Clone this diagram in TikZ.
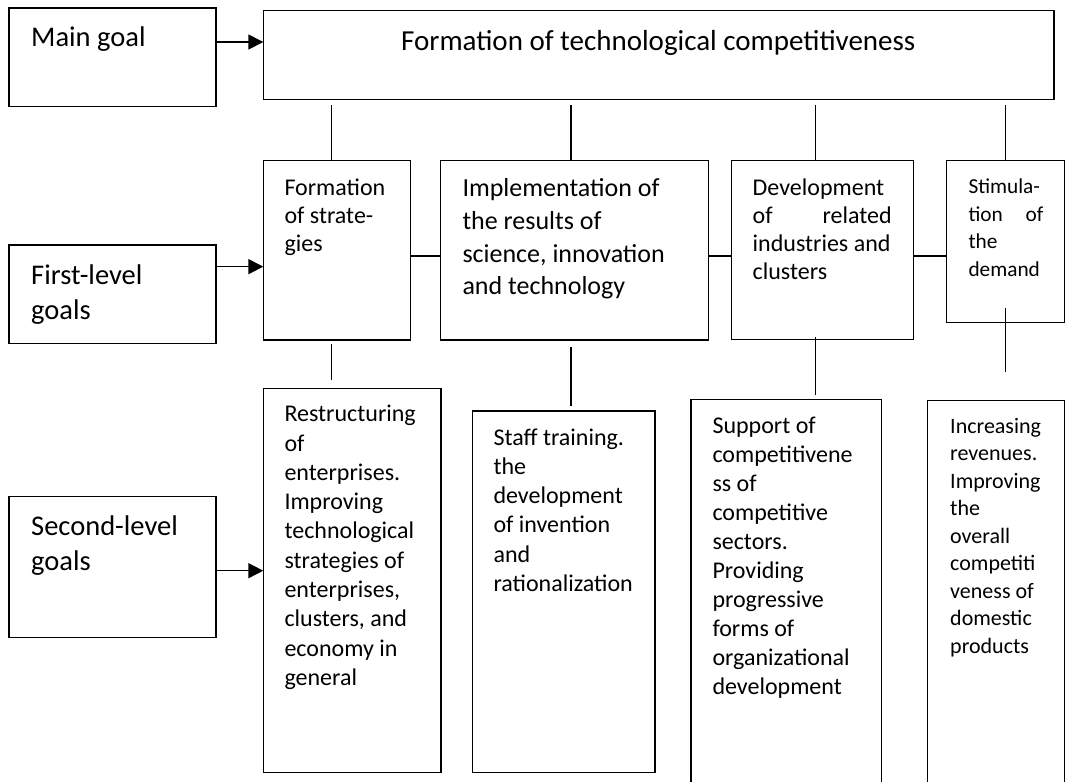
\documentclass[tikz,border=0pt]{standalone}
\usepackage{fontspec}
\setmainfont{Carlito}
\usetikzlibrary{arrows.meta,calc}
% left-aligned block whose reference point is the first baseline
\newcommand\goallines[1]{\begin{tabular}[t]{@{}l@{}}#1\end{tabular}}
\begin{document}
\begin{tikzpicture}[x=1pt,y=-1pt,
  box/.style={draw, line width=1.5pt, inner sep=0pt, outer sep=0pt},
  link/.style={line width=1.5pt},
  goalarrow/.style={line width=1.5pt, -{Triangle[length=15pt,width=15pt]}},
  txt/.style={anchor=base west, inner sep=0pt},
  fbig/.style={font=\fontsize{29}{35}\selectfont},
  flab/.style={font=\fontsize{28.5}{35}\selectfont},
  fmid/.style={font=\fontsize{26}{32.7}\selectfont},
  fstd/.style={font=\fontsize{24}{29.3}\selectfont},
  fdev/.style={font=\fontsize{24}{28}\selectfont},
  fstim/.style={font=\fontsize{21.3}{27.8}\selectfont},
  fincr/.style={font=\fontsize{22}{27.5}\selectfont}]
\useasboundingbox (0,0) rectangle (1066,782);
\fill[white] (0,0) rectangle (1066,782);
\clip (0,0) rectangle (1066,782);

% level labels
\node[box, minimum width=207pt, minimum height=98.7pt] (main) at (112.5,57.35) {};
\node[box, minimum width=207pt, minimum height=98.3pt] (first) at (112.5,294.15) {};
\node[box, minimum width=207pt, minimum height=141pt] (second) at (112.5,567.2) {};
\node[txt, flab] (main-t) at (31,46.7) {Main goal};
\node[txt, flab] (first-t) at (31,284) {\goallines{First-level\\goals}};
\node[txt, flab] (second-t) at (31,535) {\goallines{Second-level\\goals}};

% main goal
\node[box, minimum width=790.7pt, minimum height=88.6pt] (top) at (658.65,55) {};
\node[txt, fbig] (top-t) at (401,50.7) {Formation of technological competitiveness};

% first-level goals
\node[box, minimum width=147.4pt, minimum height=179.3pt] (strat) at (337,250.35) {};
\node[box, minimum width=267.6pt, minimum height=179.3pt] (impl) at (574.5,250.35) {};
\node[box, minimum width=181.6pt, minimum height=178.6pt] (dev) at (822.5,250) {};
\node[box, minimum width=117.6pt, minimum height=162pt] (stim) at (1005.5,241.7) {};
\node[txt, fdev] (strat-t) at (284.3,195) {\goallines{Formation\\of strate-\\gies}};
\node[txt, fmid] (impl-t) at (462.3,196.7) {\goallines{Implementation of\\the results of\\science, innovation\\and technology}};
\node[txt, fdev] (dev-t) at (752.5,195) {\goallines{Development\\\makebox[139pt][l]{of\hfill related}\\industries and\\clusters}};
\node[txt, fstim] (stim-t) at (968.3,193.3) {\goallines{Stimula-\\\makebox[75pt][l]{tion\hfill of}\\the\\demand}};

% second-level goals
\node[box, minimum width=177.7pt, minimum height=384.4pt] (restr) at (352.15,580.5) {};
\node[box, minimum width=182.7pt, minimum height=361.7pt] (staff) at (563.65,591.85) {};
\node[box, minimum width=190.7pt, minimum height=430.7pt] (supp) at (786.35,614.65) {};
\node[box, minimum width=136.6pt, minimum height=429.3pt] (incr) at (996,615.35) {};
\node[txt, fstd] (restr-t) at (284.3,421.7) {\goallines{Restructuring\\of\\enterprises.\\Improving\\technological\\strategies of\\enterprises,\\clusters, and\\economy in\\general}};
\node[txt, fstd] (staff-t) at (493.3,445) {\goallines{Staff training.\\the\\development\\of invention\\and\\rationalization}};
\node[txt, font=\fontsize{24}{29}\selectfont] (supp-t) at (712.3,433.3) {\goallines{Support of\\competitivene\\ss of\\competitive\\sectors.\\Providing\\progressive\\forms of\\organizational\\development}};
\node[txt, fincr] (incr-t) at (950,433.3) {\goallines{Increasing\\revenues.\\Improving\\the\\overall\\competiti\\veness of\\domestic\\products}};

% arrows from the level labels
\coordinate (a1) at ([yshift=15.35pt]main.east);
\coordinate (a2) at ([yshift=27.5pt]first.east);
\coordinate (a3) at ([yshift=-3.5pt]second.east);
\draw[goalarrow] (a1) -- (a1 -| top.west);
\draw[goalarrow] (a2) -- (a2 -| strat.west);
\draw[goalarrow] (a3) -- (a3 -| restr.west);

% links from the main goal
\coordinate (v1) at ([xshift=-5.3pt]strat.north);
\coordinate (v2) at ([xshift=-3.5pt]impl.north);
\coordinate (v3) at ([xshift=-7.2pt]dev.north);
\coordinate (v4) at ([xshift=0.2pt]stim.north);
\draw[link, shorten <=5.7pt] (v1 |- top.south) -- (v1);
\draw[link, shorten <=5.7pt] (v2 |- top.south) -- (v2);
\draw[link, shorten <=5.7pt] (v3 |- top.south) -- (v3);
\draw[link, shorten <=5.7pt] (v4 |- top.south) -- (v4);

% links between first-level goals
\coordinate (h1) at ([yshift=-5.65pt]strat.east);
\coordinate (h2) at ([yshift=-5.65pt]impl.east);
\coordinate (h3) at ([yshift=-6pt]dev.east);
\draw[link] (h1) -- (h1 -| impl.west);
\draw[link] (h2) -- (h2 -| dev.west);
\draw[link] (h3) -- (h3 -| stim.west);

% links to second-level goals
\draw[link, shorten <=4pt, shorten >=8.3pt] (v1 |- strat.south) -- (v1 |- restr.north);
\draw[link, shorten <=7.3pt, shorten >=5pt] (v2 |- impl.south) -- (v2 |- staff.north);
\draw[link, shorten <=-2.6pt, shorten >=4.3pt] (v3 |- dev.south) -- (v3 |- supp.north);
\draw[link, shorten <=-14.4pt, shorten >=29pt] (v4 |- stim.south) -- (v4 |- incr.north);
\end{tikzpicture}
\end{document}
